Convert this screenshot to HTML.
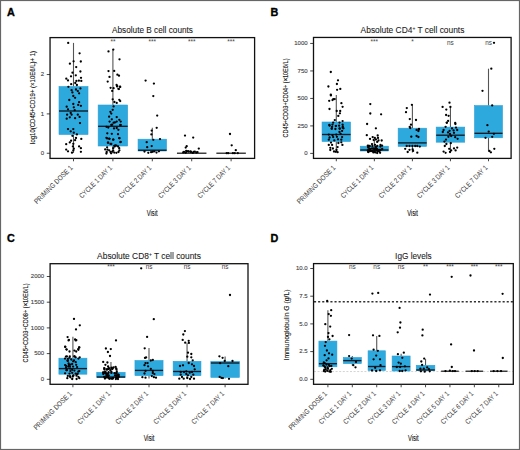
<!DOCTYPE html>
<html><head><meta charset="utf-8"><style>
html,body{margin:0;padding:0;background:#fff;}
svg{display:block;}
text{font-family:"Liberation Sans", sans-serif;}
</style></head><body>
<svg width="520" height="450" viewBox="0 0 520 450">
<rect x="0" y="0" width="520" height="450" fill="#fff"/>
<text x="7.0" y="16.0" font-size="10.8" font-weight="bold" fill="#000" stroke="#000" stroke-width="0.35">A</text>
<text x="0" y="0" font-size="8.9" text-anchor="middle" fill="#1a1a1a" stroke="#1a1a1a" stroke-width="0.08" transform="translate(152.5 32.6) scale(0.925 1)">Absolute B cell counts</text>
<text x="-46.50" y="0" font-size="6.9" textLength="93" lengthAdjust="spacingAndGlyphs" fill="#111" stroke="#111" stroke-width="0.12" transform="translate(35.2 97.4) rotate(-90)">log10(CD45+CD19+ (×10E6/L)+ 1)</text>
<line x1="46.75" y1="153.25" x2="50.05" y2="153.25" stroke="#333" stroke-width="0.9"/>
<text x="44.15" y="155.00" font-size="6" text-anchor="end" fill="#444" stroke="#444" stroke-width="0.12">0</text>
<line x1="46.75" y1="113.90" x2="50.05" y2="113.90" stroke="#333" stroke-width="0.9"/>
<text x="44.15" y="115.65" font-size="6" text-anchor="end" fill="#444" stroke="#444" stroke-width="0.12">1</text>
<line x1="46.75" y1="74.55" x2="50.05" y2="74.55" stroke="#333" stroke-width="0.9"/>
<text x="44.15" y="76.30" font-size="6" text-anchor="end" fill="#444" stroke="#444" stroke-width="0.12">2</text>
<line x1="73.50" y1="42.90" x2="73.50" y2="86.50" stroke="#555" stroke-width="1.1"/>
<line x1="73.50" y1="134.50" x2="73.50" y2="153.00" stroke="#555" stroke-width="1.1"/>
<rect x="59.00" y="86.50" width="29.00" height="48.00" fill="#2ea9de" stroke="#2a9fd6" stroke-width="0.6"/>
<line x1="59.00" y1="111.00" x2="88.00" y2="111.00" stroke="#0e1a24" stroke-width="1.35"/>
<line x1="112.90" y1="49.60" x2="112.90" y2="105.00" stroke="#555" stroke-width="1.1"/>
<line x1="112.90" y1="146.00" x2="112.90" y2="153.20" stroke="#555" stroke-width="1.1"/>
<rect x="98.15" y="105.00" width="29.50" height="41.00" fill="#2ea9de" stroke="#2a9fd6" stroke-width="0.6"/>
<line x1="98.15" y1="126.30" x2="127.65" y2="126.30" stroke="#0e1a24" stroke-width="1.35"/>
<line x1="152.30" y1="127.80" x2="152.30" y2="139.20" stroke="#555" stroke-width="1.1"/>
<line x1="152.30" y1="151.00" x2="152.30" y2="153.00" stroke="#555" stroke-width="1.1"/>
<rect x="138.05" y="139.20" width="28.50" height="11.80" fill="#2ea9de" stroke="#2a9fd6" stroke-width="0.6"/>
<line x1="138.05" y1="150.20" x2="166.55" y2="150.20" stroke="#0e1a24" stroke-width="1.35"/>
<line x1="176.95" y1="153.20" x2="206.45" y2="153.20" stroke="#111" stroke-width="1.2"/>
<line x1="216.35" y1="153.20" x2="245.85" y2="153.20" stroke="#111" stroke-width="1.2"/>
<text x="112.90" y="44.1" font-size="6.4" text-anchor="middle" fill="#444">**</text>
<text x="152.30" y="44.1" font-size="6.4" text-anchor="middle" fill="#444">***</text>
<text x="191.70" y="44.1" font-size="6.4" text-anchor="middle" fill="#444">***</text>
<text x="231.10" y="44.1" font-size="6.4" text-anchor="middle" fill="#444">***</text>
<circle cx="68.2" cy="42.9" r="1.15" fill="#000"/>
<circle cx="79.6" cy="53.3" r="1.15" fill="#000"/>
<circle cx="73.6" cy="61.3" r="1.15" fill="#000"/>
<circle cx="80.8" cy="61.5" r="1.15" fill="#000"/>
<circle cx="69.9" cy="63.7" r="1.15" fill="#000"/>
<circle cx="76.2" cy="67.1" r="1.15" fill="#000"/>
<circle cx="80.4" cy="71.5" r="1.15" fill="#000"/>
<circle cx="72.5" cy="72.7" r="1.15" fill="#000"/>
<circle cx="71" cy="76.3" r="1.15" fill="#000"/>
<circle cx="75.8" cy="75.3" r="1.15" fill="#000"/>
<circle cx="81" cy="77.8" r="1.15" fill="#000"/>
<circle cx="66.3" cy="78.7" r="1.15" fill="#000"/>
<circle cx="68" cy="80.4" r="1.15" fill="#000"/>
<circle cx="76.4" cy="80.9" r="1.15" fill="#000"/>
<circle cx="78.9" cy="80.7" r="1.15" fill="#000"/>
<circle cx="81.3" cy="80.9" r="1.15" fill="#000"/>
<circle cx="71.2" cy="84.2" r="1.15" fill="#000"/>
<circle cx="75.3" cy="83" r="1.15" fill="#000"/>
<circle cx="76.9" cy="85" r="1.15" fill="#000"/>
<circle cx="68.4" cy="86.8" r="1.15" fill="#000"/>
<circle cx="71.6" cy="90.2" r="1.15" fill="#000"/>
<circle cx="76" cy="89.5" r="1.15" fill="#000"/>
<circle cx="77.8" cy="91.1" r="1.15" fill="#000"/>
<circle cx="80.4" cy="88.4" r="1.15" fill="#000"/>
<circle cx="72.4" cy="92.4" r="1.15" fill="#000"/>
<circle cx="79.1" cy="93.3" r="1.15" fill="#000"/>
<circle cx="73.3" cy="96" r="1.15" fill="#000"/>
<circle cx="75.1" cy="97.8" r="1.15" fill="#000"/>
<circle cx="69.3" cy="100" r="1.15" fill="#000"/>
<circle cx="79.1" cy="102.2" r="1.15" fill="#000"/>
<circle cx="73.3" cy="104" r="1.15" fill="#000"/>
<circle cx="78.2" cy="104.9" r="1.15" fill="#000"/>
<circle cx="80.9" cy="105.8" r="1.15" fill="#000"/>
<circle cx="66.7" cy="106.7" r="1.15" fill="#000"/>
<circle cx="73.8" cy="107.3" r="1.15" fill="#000"/>
<circle cx="68" cy="109.3" r="1.15" fill="#000"/>
<circle cx="74.7" cy="110.2" r="1.15" fill="#000"/>
<circle cx="70.7" cy="112.9" r="1.15" fill="#000"/>
<circle cx="67.1" cy="114.7" r="1.15" fill="#000"/>
<circle cx="71.6" cy="114.7" r="1.15" fill="#000"/>
<circle cx="77.8" cy="114.7" r="1.15" fill="#000"/>
<circle cx="69.8" cy="117.3" r="1.15" fill="#000"/>
<circle cx="66.7" cy="118.7" r="1.15" fill="#000"/>
<circle cx="75.1" cy="118.2" r="1.15" fill="#000"/>
<circle cx="79.6" cy="116.9" r="1.15" fill="#000"/>
<circle cx="80" cy="123.1" r="1.15" fill="#000"/>
<circle cx="68" cy="129.1" r="1.15" fill="#000"/>
<circle cx="73.3" cy="129.1" r="1.15" fill="#000"/>
<circle cx="70.7" cy="131.3" r="1.15" fill="#000"/>
<circle cx="73.8" cy="132.7" r="1.15" fill="#000"/>
<circle cx="76.9" cy="134.4" r="1.15" fill="#000"/>
<circle cx="72.4" cy="135.8" r="1.15" fill="#000"/>
<circle cx="76" cy="138" r="1.15" fill="#000"/>
<circle cx="81.3" cy="138.9" r="1.15" fill="#000"/>
<circle cx="71.1" cy="140.7" r="1.15" fill="#000"/>
<circle cx="75.1" cy="140.2" r="1.15" fill="#000"/>
<circle cx="69.8" cy="142.4" r="1.15" fill="#000"/>
<circle cx="66.2" cy="144.2" r="1.15" fill="#000"/>
<circle cx="73.3" cy="143.8" r="1.15" fill="#000"/>
<circle cx="72.9" cy="146.4" r="1.15" fill="#000"/>
<circle cx="79.1" cy="146.4" r="1.15" fill="#000"/>
<circle cx="80.9" cy="148.2" r="1.15" fill="#000"/>
<circle cx="66.2" cy="149.6" r="1.15" fill="#000"/>
<circle cx="73.8" cy="148.7" r="1.15" fill="#000"/>
<circle cx="68" cy="151.3" r="1.15" fill="#000"/>
<circle cx="72" cy="152.7" r="1.15" fill="#000"/>
<circle cx="80.9" cy="151.8" r="1.15" fill="#000"/>
<circle cx="73.3" cy="150.4" r="1.15" fill="#000"/>
<circle cx="113.3" cy="49.6" r="1.15" fill="#000"/>
<circle cx="108.5" cy="51.4" r="1.15" fill="#000"/>
<circle cx="119.5" cy="59.3" r="1.15" fill="#000"/>
<circle cx="108.5" cy="71.1" r="1.15" fill="#000"/>
<circle cx="114.2" cy="70.9" r="1.15" fill="#000"/>
<circle cx="117.4" cy="74.7" r="1.15" fill="#000"/>
<circle cx="119" cy="75.7" r="1.15" fill="#000"/>
<circle cx="109.5" cy="76.9" r="1.15" fill="#000"/>
<circle cx="107.7" cy="81.6" r="1.15" fill="#000"/>
<circle cx="116.6" cy="84.9" r="1.15" fill="#000"/>
<circle cx="117.2" cy="86.1" r="1.15" fill="#000"/>
<circle cx="120" cy="86.7" r="1.15" fill="#000"/>
<circle cx="110.6" cy="87.8" r="1.15" fill="#000"/>
<circle cx="113.6" cy="88.2" r="1.15" fill="#000"/>
<circle cx="118.4" cy="88.8" r="1.15" fill="#000"/>
<circle cx="117.1" cy="86.4" r="1.15" fill="#000"/>
<circle cx="118.9" cy="89.1" r="1.15" fill="#000"/>
<circle cx="120.2" cy="86.9" r="1.15" fill="#000"/>
<circle cx="112.2" cy="90.9" r="1.15" fill="#000"/>
<circle cx="112.7" cy="99.3" r="1.15" fill="#000"/>
<circle cx="114.4" cy="102" r="1.15" fill="#000"/>
<circle cx="116.7" cy="102.9" r="1.15" fill="#000"/>
<circle cx="119.3" cy="99.8" r="1.15" fill="#000"/>
<circle cx="120.2" cy="101.1" r="1.15" fill="#000"/>
<circle cx="113.6" cy="106.4" r="1.15" fill="#000"/>
<circle cx="112.7" cy="109.8" r="1.15" fill="#000"/>
<circle cx="110.4" cy="111.8" r="1.15" fill="#000"/>
<circle cx="111.3" cy="113.6" r="1.15" fill="#000"/>
<circle cx="109.1" cy="116.7" r="1.15" fill="#000"/>
<circle cx="116.7" cy="117.1" r="1.15" fill="#000"/>
<circle cx="111.8" cy="119.3" r="1.15" fill="#000"/>
<circle cx="119.3" cy="119.8" r="1.15" fill="#000"/>
<circle cx="109.6" cy="121.6" r="1.15" fill="#000"/>
<circle cx="114.9" cy="122.4" r="1.15" fill="#000"/>
<circle cx="116.7" cy="121.6" r="1.15" fill="#000"/>
<circle cx="120.7" cy="121.6" r="1.15" fill="#000"/>
<circle cx="112.2" cy="124.7" r="1.15" fill="#000"/>
<circle cx="120.2" cy="125.1" r="1.15" fill="#000"/>
<circle cx="113.6" cy="122.7" r="1.15" fill="#000"/>
<circle cx="111.3" cy="124.9" r="1.15" fill="#000"/>
<circle cx="120.7" cy="124.9" r="1.15" fill="#000"/>
<circle cx="114" cy="128.4" r="1.15" fill="#000"/>
<circle cx="118.4" cy="129.8" r="1.15" fill="#000"/>
<circle cx="116.7" cy="128" r="1.15" fill="#000"/>
<circle cx="107.3" cy="133.3" r="1.15" fill="#000"/>
<circle cx="111.8" cy="133.8" r="1.15" fill="#000"/>
<circle cx="118" cy="134.2" r="1.15" fill="#000"/>
<circle cx="106.4" cy="137.8" r="1.15" fill="#000"/>
<circle cx="109.1" cy="138.7" r="1.15" fill="#000"/>
<circle cx="113.1" cy="139.6" r="1.15" fill="#000"/>
<circle cx="119.3" cy="138.2" r="1.15" fill="#000"/>
<circle cx="108.2" cy="142.7" r="1.15" fill="#000"/>
<circle cx="111.3" cy="144" r="1.15" fill="#000"/>
<circle cx="120.7" cy="141.8" r="1.15" fill="#000"/>
<circle cx="115.3" cy="145.3" r="1.15" fill="#000"/>
<circle cx="108.3" cy="127.5" r="1.15" fill="#000"/>
<circle cx="106.5" cy="126.8" r="1.15" fill="#000"/>
<circle cx="114.3" cy="145.8" r="1.15" fill="#000"/>
<circle cx="116.4" cy="145.6" r="1.15" fill="#000"/>
<circle cx="118.1" cy="146.5" r="1.15" fill="#000"/>
<circle cx="119.2" cy="148.2" r="1.15" fill="#000"/>
<circle cx="119.4" cy="150.3" r="1.15" fill="#000"/>
<circle cx="118.5" cy="152" r="1.15" fill="#000"/>
<circle cx="116.4" cy="152.8" r="1.15" fill="#000"/>
<circle cx="114.3" cy="152.6" r="1.15" fill="#000"/>
<circle cx="113.2" cy="150.7" r="1.15" fill="#000"/>
<circle cx="113.2" cy="148.2" r="1.15" fill="#000"/>
<circle cx="114.7" cy="146.5" r="1.15" fill="#000"/>
<circle cx="107.1" cy="147.3" r="1.15" fill="#000"/>
<circle cx="105.2" cy="149.4" r="1.15" fill="#000"/>
<circle cx="107.5" cy="149.7" r="1.15" fill="#000"/>
<circle cx="109.2" cy="150.3" r="1.15" fill="#000"/>
<circle cx="106.7" cy="152" r="1.15" fill="#000"/>
<circle cx="106.4" cy="153.5" r="1.15" fill="#000"/>
<circle cx="110.5" cy="152" r="1.15" fill="#000"/>
<circle cx="111.1" cy="153.3" r="1.15" fill="#000"/>
<circle cx="112.2" cy="151.6" r="1.15" fill="#000"/>
<circle cx="107.9" cy="142.7" r="1.15" fill="#000"/>
<circle cx="110.5" cy="143.9" r="1.15" fill="#000"/>
<circle cx="113.4" cy="139.7" r="1.15" fill="#000"/>
<circle cx="120.4" cy="142.2" r="1.15" fill="#000"/>
<circle cx="109.6" cy="138.8" r="1.15" fill="#000"/>
<circle cx="107.1" cy="138.4" r="1.15" fill="#000"/>
<circle cx="119.4" cy="138.2" r="1.15" fill="#000"/>
<circle cx="145.6" cy="80.6" r="1.15" fill="#000"/>
<circle cx="153.9" cy="83.6" r="1.15" fill="#000"/>
<circle cx="153.3" cy="96.1" r="1.15" fill="#000"/>
<circle cx="157.2" cy="115.6" r="1.15" fill="#000"/>
<circle cx="156.7" cy="127.8" r="1.15" fill="#000"/>
<circle cx="151.7" cy="130.6" r="1.15" fill="#000"/>
<circle cx="151.4" cy="134.4" r="1.15" fill="#000"/>
<circle cx="153.3" cy="139.8" r="1.15" fill="#000"/>
<circle cx="160" cy="139.1" r="1.15" fill="#000"/>
<circle cx="146.7" cy="142.2" r="1.15" fill="#000"/>
<circle cx="147.2" cy="147.2" r="1.15" fill="#000"/>
<circle cx="151.7" cy="146.1" r="1.15" fill="#000"/>
<circle cx="148.3" cy="152.8" r="1.15" fill="#000"/>
<circle cx="151.1" cy="152.2" r="1.15" fill="#000"/>
<circle cx="152.8" cy="151.7" r="1.15" fill="#000"/>
<circle cx="154.4" cy="151.3" r="1.15" fill="#000"/>
<circle cx="158.9" cy="151.3" r="1.15" fill="#000"/>
<circle cx="156.5" cy="152.6" r="1.15" fill="#000"/>
<circle cx="144.5" cy="151.5" r="1.15" fill="#000"/>
<circle cx="185" cy="135.6" r="1.15" fill="#000"/>
<circle cx="193.2" cy="137.6" r="1.15" fill="#000"/>
<circle cx="185.7" cy="147.6" r="1.15" fill="#000"/>
<circle cx="186.7" cy="146.2" r="1.15" fill="#000"/>
<circle cx="198.8" cy="148.6" r="1.15" fill="#000"/>
<circle cx="184" cy="152" r="1.15" fill="#000"/>
<circle cx="186.5" cy="151.8" r="1.15" fill="#000"/>
<circle cx="188.8" cy="151.7" r="1.15" fill="#000"/>
<circle cx="191" cy="152" r="1.15" fill="#000"/>
<circle cx="193.6" cy="152" r="1.15" fill="#000"/>
<circle cx="196.3" cy="152.5" r="1.15" fill="#000"/>
<circle cx="185.7" cy="152.8" r="1.15" fill="#000"/>
<circle cx="192.8" cy="152.9" r="1.15" fill="#000"/>
<circle cx="188" cy="151.2" r="1.15" fill="#000"/>
<circle cx="190.5" cy="151.5" r="1.15" fill="#000"/>
<circle cx="194.8" cy="151.6" r="1.15" fill="#000"/>
<circle cx="183.2" cy="152.4" r="1.15" fill="#000"/>
<circle cx="197.5" cy="152.2" r="1.15" fill="#000"/>
<circle cx="186.2" cy="150.8" r="1.15" fill="#000"/>
<circle cx="230" cy="134" r="1.15" fill="#000"/>
<circle cx="231.7" cy="145.3" r="1.15" fill="#000"/>
<circle cx="235.8" cy="150.2" r="1.15" fill="#000"/>
<circle cx="226.7" cy="153.2" r="1.15" fill="#000"/>
<circle cx="228.2" cy="153.2" r="1.15" fill="#000"/>
<circle cx="232.9" cy="153.2" r="1.15" fill="#000"/>
<circle cx="234.7" cy="153.2" r="1.15" fill="#000"/>
<circle cx="237.8" cy="153.2" r="1.15" fill="#000"/>
<rect x="50.05" y="37.6" width="204.55" height="120.80000000000001" fill="none" stroke="#111" stroke-width="1.3"/>
<line x1="73.50" y1="158.3" x2="73.50" y2="161.3" stroke="#333" stroke-width="0.9"/>
<text x="-51.00" y="0" font-size="7.2" textLength="51" lengthAdjust="spacingAndGlyphs" fill="#4a4a4a" stroke="#4a4a4a" stroke-width="0.05" transform="translate(73.10 168.30) rotate(-45)">PRIMING DOSE 1</text>
<line x1="112.90" y1="158.3" x2="112.90" y2="161.3" stroke="#333" stroke-width="0.9"/>
<text x="-43.00" y="0" font-size="7.2" textLength="43" lengthAdjust="spacingAndGlyphs" fill="#4a4a4a" stroke="#4a4a4a" stroke-width="0.05" transform="translate(112.50 168.30) rotate(-45)">CYCLE 1 DAY 1</text>
<line x1="152.30" y1="158.3" x2="152.30" y2="161.3" stroke="#333" stroke-width="0.9"/>
<text x="-43.00" y="0" font-size="7.2" textLength="43" lengthAdjust="spacingAndGlyphs" fill="#4a4a4a" stroke="#4a4a4a" stroke-width="0.05" transform="translate(151.90 168.30) rotate(-45)">CYCLE 2 DAY 1</text>
<line x1="191.70" y1="158.3" x2="191.70" y2="161.3" stroke="#333" stroke-width="0.9"/>
<text x="-43.00" y="0" font-size="7.2" textLength="43" lengthAdjust="spacingAndGlyphs" fill="#4a4a4a" stroke="#4a4a4a" stroke-width="0.05" transform="translate(191.30 168.30) rotate(-45)">CYCLE 3 DAY 1</text>
<line x1="231.10" y1="158.3" x2="231.10" y2="161.3" stroke="#333" stroke-width="0.9"/>
<text x="-43.00" y="0" font-size="7.2" textLength="43" lengthAdjust="spacingAndGlyphs" fill="#4a4a4a" stroke="#4a4a4a" stroke-width="0.05" transform="translate(230.70 168.30) rotate(-45)">CYCLE 7 DAY 1</text>
<text x="0" y="0" font-size="8.4" textLength="10.7" lengthAdjust="spacingAndGlyphs" text-anchor="middle" fill="#111" stroke="#111" stroke-width="0.12" transform="translate(152.2 215.9)">Visit</text>
<text x="270.4" y="16.0" font-size="10.8" font-weight="bold" fill="#000" stroke="#000" stroke-width="0.35">B</text>
<text x="0" y="0" font-size="8.9" text-anchor="middle" fill="#1a1a1a" stroke="#1a1a1a" stroke-width="0.08" transform="translate(412.5 32.6) scale(0.945 1)">Absolute CD4<tspan font-size="5.2" dy="-3">+</tspan><tspan dy="3"> T cell counts</tspan></text>
<text x="-39.50" y="0" font-size="6.9" textLength="79" lengthAdjust="spacingAndGlyphs" fill="#111" stroke="#111" stroke-width="0.12" transform="translate(288.4 98) rotate(-90)">CD45+CD03+CD04+ (×10E6/L)</text>
<line x1="310.2" y1="153.40" x2="313.5" y2="153.40" stroke="#333" stroke-width="0.9"/>
<text x="307.6" y="155.15" font-size="6" text-anchor="end" fill="#444" stroke="#444" stroke-width="0.12">0</text>
<line x1="310.2" y1="125.91" x2="313.5" y2="125.91" stroke="#333" stroke-width="0.9"/>
<text x="307.6" y="127.66" font-size="6" text-anchor="end" fill="#444" stroke="#444" stroke-width="0.12">250</text>
<line x1="310.2" y1="98.43" x2="313.5" y2="98.43" stroke="#333" stroke-width="0.9"/>
<text x="307.6" y="100.18" font-size="6" text-anchor="end" fill="#444" stroke="#444" stroke-width="0.12">500</text>
<line x1="310.2" y1="70.94" x2="313.5" y2="70.94" stroke="#333" stroke-width="0.9"/>
<text x="307.6" y="72.69" font-size="6" text-anchor="end" fill="#444" stroke="#444" stroke-width="0.12">750</text>
<line x1="310.2" y1="43.45" x2="313.5" y2="43.45" stroke="#333" stroke-width="0.9"/>
<text x="307.6" y="45.20" font-size="6" text-anchor="end" fill="#444" stroke="#444" stroke-width="0.12">1000</text>
<line x1="336.30" y1="95.00" x2="336.30" y2="122.00" stroke="#555" stroke-width="1.1"/>
<line x1="336.30" y1="141.50" x2="336.30" y2="152.00" stroke="#555" stroke-width="1.1"/>
<rect x="322.05" y="122.00" width="28.50" height="19.50" fill="#2ea9de" stroke="#2a9fd6" stroke-width="0.6"/>
<line x1="322.05" y1="134.50" x2="350.55" y2="134.50" stroke="#0e1a24" stroke-width="1.35"/>
<line x1="374.35" y1="140.00" x2="374.35" y2="146.20" stroke="#555" stroke-width="1.1"/>
<line x1="374.35" y1="151.00" x2="374.35" y2="152.50" stroke="#555" stroke-width="1.1"/>
<rect x="360.25" y="146.20" width="28.20" height="4.80" fill="#2ea9de" stroke="#2a9fd6" stroke-width="0.6"/>
<line x1="360.25" y1="150.00" x2="388.45" y2="150.00" stroke="#0e1a24" stroke-width="1.35"/>
<line x1="412.40" y1="104.80" x2="412.40" y2="128.20" stroke="#555" stroke-width="1.1"/>
<line x1="412.40" y1="146.40" x2="412.40" y2="152.50" stroke="#555" stroke-width="1.1"/>
<rect x="398.15" y="128.20" width="28.50" height="18.20" fill="#2ea9de" stroke="#2a9fd6" stroke-width="0.6"/>
<line x1="398.15" y1="142.90" x2="426.65" y2="142.90" stroke="#0e1a24" stroke-width="1.35"/>
<line x1="450.45" y1="106.80" x2="450.45" y2="127.10" stroke="#555" stroke-width="1.1"/>
<line x1="450.45" y1="142.20" x2="450.45" y2="152.50" stroke="#555" stroke-width="1.1"/>
<rect x="436.20" y="127.10" width="28.50" height="15.10" fill="#2ea9de" stroke="#2a9fd6" stroke-width="0.6"/>
<line x1="436.20" y1="135.20" x2="464.70" y2="135.20" stroke="#0e1a24" stroke-width="1.35"/>
<line x1="488.50" y1="68.70" x2="488.50" y2="105.60" stroke="#555" stroke-width="1.1"/>
<line x1="488.50" y1="137.80" x2="488.50" y2="151.60" stroke="#555" stroke-width="1.1"/>
<rect x="474.50" y="105.60" width="28.00" height="32.20" fill="#2ea9de" stroke="#2a9fd6" stroke-width="0.6"/>
<line x1="474.50" y1="133.30" x2="502.50" y2="133.30" stroke="#0e1a24" stroke-width="1.35"/>
<text x="374.35" y="44.1" font-size="6.4" text-anchor="middle" fill="#444">***</text>
<text x="412.40" y="44.1" font-size="6.4" text-anchor="middle" fill="#444">*</text>
<text x="450.45" y="44.6" font-size="6.4" text-anchor="middle" fill="#444">ns</text>
<text x="488.50" y="44.6" font-size="6.4" text-anchor="middle" fill="#444">ns</text>
<circle cx="330.8" cy="72" r="1.15" fill="#000"/>
<circle cx="338" cy="80.3" r="1.15" fill="#000"/>
<circle cx="336.9" cy="84" r="1.15" fill="#000"/>
<circle cx="328.4" cy="86.5" r="1.15" fill="#000"/>
<circle cx="337.1" cy="89.8" r="1.15" fill="#000"/>
<circle cx="340.3" cy="88.9" r="1.15" fill="#000"/>
<circle cx="330.8" cy="94.7" r="1.15" fill="#000"/>
<circle cx="333.3" cy="99.1" r="1.15" fill="#000"/>
<circle cx="334.7" cy="99.1" r="1.15" fill="#000"/>
<circle cx="330.9" cy="95.4" r="1.15" fill="#000"/>
<circle cx="329.2" cy="100.8" r="1.15" fill="#000"/>
<circle cx="332.5" cy="100.1" r="1.15" fill="#000"/>
<circle cx="341.4" cy="103.2" r="1.15" fill="#000"/>
<circle cx="342.6" cy="106.8" r="1.15" fill="#000"/>
<circle cx="329.5" cy="109" r="1.15" fill="#000"/>
<circle cx="336.7" cy="111" r="1.15" fill="#000"/>
<circle cx="340.2" cy="111" r="1.15" fill="#000"/>
<circle cx="339.9" cy="113.3" r="1.15" fill="#000"/>
<circle cx="338.3" cy="115.9" r="1.15" fill="#000"/>
<circle cx="334.8" cy="120.1" r="1.15" fill="#000"/>
<circle cx="342.6" cy="121.1" r="1.15" fill="#000"/>
<circle cx="333.2" cy="122.6" r="1.15" fill="#000"/>
<circle cx="339.5" cy="122.6" r="1.15" fill="#000"/>
<circle cx="329.3" cy="125" r="1.15" fill="#000"/>
<circle cx="332.5" cy="124.6" r="1.15" fill="#000"/>
<circle cx="336" cy="125.8" r="1.15" fill="#000"/>
<circle cx="342.6" cy="124.6" r="1.15" fill="#000"/>
<circle cx="331.7" cy="128.5" r="1.15" fill="#000"/>
<circle cx="339.5" cy="128.5" r="1.15" fill="#000"/>
<circle cx="342.6" cy="127.7" r="1.15" fill="#000"/>
<circle cx="329.6" cy="125.7" r="1.15" fill="#000"/>
<circle cx="332.1" cy="126.8" r="1.15" fill="#000"/>
<circle cx="335.8" cy="126.1" r="1.15" fill="#000"/>
<circle cx="339.1" cy="125.7" r="1.15" fill="#000"/>
<circle cx="342.8" cy="126.5" r="1.15" fill="#000"/>
<circle cx="331.8" cy="128.7" r="1.15" fill="#000"/>
<circle cx="335.4" cy="129" r="1.15" fill="#000"/>
<circle cx="339.9" cy="128.7" r="1.15" fill="#000"/>
<circle cx="343.5" cy="128.3" r="1.15" fill="#000"/>
<circle cx="339.5" cy="132" r="1.15" fill="#000"/>
<circle cx="342.1" cy="130.9" r="1.15" fill="#000"/>
<circle cx="328.8" cy="134.6" r="1.15" fill="#000"/>
<circle cx="332.5" cy="135.3" r="1.15" fill="#000"/>
<circle cx="336.2" cy="134.6" r="1.15" fill="#000"/>
<circle cx="340.6" cy="133.8" r="1.15" fill="#000"/>
<circle cx="329.6" cy="137.5" r="1.15" fill="#000"/>
<circle cx="333.2" cy="137.1" r="1.15" fill="#000"/>
<circle cx="336.9" cy="136.8" r="1.15" fill="#000"/>
<circle cx="342.1" cy="137.1" r="1.15" fill="#000"/>
<circle cx="328.8" cy="139.7" r="1.15" fill="#000"/>
<circle cx="334.3" cy="140.4" r="1.15" fill="#000"/>
<circle cx="338" cy="139.3" r="1.15" fill="#000"/>
<circle cx="341.3" cy="139.7" r="1.15" fill="#000"/>
<circle cx="331" cy="142.6" r="1.15" fill="#000"/>
<circle cx="338.4" cy="143" r="1.15" fill="#000"/>
<circle cx="341.3" cy="142.3" r="1.15" fill="#000"/>
<circle cx="328.8" cy="144.9" r="1.15" fill="#000"/>
<circle cx="332.1" cy="144.9" r="1.15" fill="#000"/>
<circle cx="342.4" cy="144.9" r="1.15" fill="#000"/>
<circle cx="330.3" cy="147.8" r="1.15" fill="#000"/>
<circle cx="332.9" cy="148.5" r="1.15" fill="#000"/>
<circle cx="337.6" cy="147.1" r="1.15" fill="#000"/>
<circle cx="330.3" cy="150" r="1.15" fill="#000"/>
<circle cx="336.5" cy="150" r="1.15" fill="#000"/>
<circle cx="334" cy="151.5" r="1.15" fill="#000"/>
<circle cx="337.6" cy="152.2" r="1.15" fill="#000"/>
<circle cx="335.8" cy="151.8" r="1.15" fill="#000"/>
<circle cx="370.3" cy="104.1" r="1.15" fill="#000"/>
<circle cx="370.3" cy="113.5" r="1.15" fill="#000"/>
<circle cx="381.1" cy="114.3" r="1.15" fill="#000"/>
<circle cx="367.1" cy="124" r="1.15" fill="#000"/>
<circle cx="375.9" cy="128.3" r="1.15" fill="#000"/>
<circle cx="366.8" cy="135.2" r="1.15" fill="#000"/>
<circle cx="370" cy="138.9" r="1.15" fill="#000"/>
<circle cx="372.7" cy="137.1" r="1.15" fill="#000"/>
<circle cx="374.8" cy="137.9" r="1.15" fill="#000"/>
<circle cx="373.7" cy="140" r="1.15" fill="#000"/>
<circle cx="375.9" cy="139.5" r="1.15" fill="#000"/>
<circle cx="377.7" cy="135.5" r="1.15" fill="#000"/>
<circle cx="378" cy="137.9" r="1.15" fill="#000"/>
<circle cx="378.5" cy="140.5" r="1.15" fill="#000"/>
<circle cx="377.2" cy="141.9" r="1.15" fill="#000"/>
<circle cx="381.7" cy="140.5" r="1.15" fill="#000"/>
<circle cx="372" cy="144.1" r="1.15" fill="#000"/>
<circle cx="367.8" cy="145.7" r="1.15" fill="#000"/>
<circle cx="380.5" cy="145" r="1.15" fill="#000"/>
<circle cx="375" cy="144.8" r="1.15" fill="#000"/>
<circle cx="372.4" cy="146.0" r="1.15" fill="#000"/>
<circle cx="377.3" cy="145.8" r="1.15" fill="#000"/>
<circle cx="375.5" cy="146.8" r="1.15" fill="#000"/>
<circle cx="368.4" cy="147.3" r="1.15" fill="#000"/>
<circle cx="368.1" cy="147.0" r="1.15" fill="#000"/>
<circle cx="368.5" cy="145.8" r="1.15" fill="#000"/>
<circle cx="373.9" cy="148.4" r="1.15" fill="#000"/>
<circle cx="369.4" cy="146.3" r="1.15" fill="#000"/>
<circle cx="376.9" cy="148.8" r="1.15" fill="#000"/>
<circle cx="376.2" cy="146.9" r="1.15" fill="#000"/>
<circle cx="382.1" cy="145.7" r="1.15" fill="#000"/>
<circle cx="380.4" cy="146.5" r="1.15" fill="#000"/>
<circle cx="369.7" cy="145.9" r="1.15" fill="#000"/>
<circle cx="372.1" cy="148.4" r="1.15" fill="#000"/>
<circle cx="370.2" cy="151.1" r="1.15" fill="#000"/>
<circle cx="377.1" cy="150.2" r="1.15" fill="#000"/>
<circle cx="375.7" cy="148.8" r="1.15" fill="#000"/>
<circle cx="368.4" cy="149.4" r="1.15" fill="#000"/>
<circle cx="377.7" cy="150.4" r="1.15" fill="#000"/>
<circle cx="372.2" cy="151.1" r="1.15" fill="#000"/>
<circle cx="374.3" cy="149.8" r="1.15" fill="#000"/>
<circle cx="379.4" cy="151.6" r="1.15" fill="#000"/>
<circle cx="371.2" cy="151.1" r="1.15" fill="#000"/>
<circle cx="375.4" cy="152.4" r="1.15" fill="#000"/>
<circle cx="378.4" cy="149.8" r="1.15" fill="#000"/>
<circle cx="382.2" cy="149.0" r="1.15" fill="#000"/>
<circle cx="373.8" cy="151.9" r="1.15" fill="#000"/>
<circle cx="369.8" cy="150.7" r="1.15" fill="#000"/>
<circle cx="368.1" cy="151.5" r="1.15" fill="#000"/>
<circle cx="379.0" cy="151.1" r="1.15" fill="#000"/>
<circle cx="380.6" cy="149.9" r="1.15" fill="#000"/>
<circle cx="377.9" cy="151.2" r="1.15" fill="#000"/>
<circle cx="376.2" cy="150.6" r="1.15" fill="#000"/>
<circle cx="380.1" cy="152.8" r="1.15" fill="#000"/>
<circle cx="374.6" cy="151.5" r="1.15" fill="#000"/>
<circle cx="368.4" cy="151.7" r="1.15" fill="#000"/>
<circle cx="377.2" cy="153.0" r="1.15" fill="#000"/>
<circle cx="379.8" cy="149.8" r="1.15" fill="#000"/>
<circle cx="373.3" cy="151.5" r="1.15" fill="#000"/>
<circle cx="367.8" cy="150.6" r="1.15" fill="#000"/>
<circle cx="370.0" cy="149.0" r="1.15" fill="#000"/>
<circle cx="368.4" cy="152.0" r="1.15" fill="#000"/>
<circle cx="369.4" cy="149.6" r="1.15" fill="#000"/>
<circle cx="373.4" cy="152.4" r="1.15" fill="#000"/>
<circle cx="411.9" cy="104.8" r="1.15" fill="#000"/>
<circle cx="406.8" cy="108.1" r="1.15" fill="#000"/>
<circle cx="406" cy="112.2" r="1.15" fill="#000"/>
<circle cx="409.8" cy="119.1" r="1.15" fill="#000"/>
<circle cx="416" cy="120" r="1.15" fill="#000"/>
<circle cx="411" cy="124.7" r="1.15" fill="#000"/>
<circle cx="409.7" cy="127" r="1.15" fill="#000"/>
<circle cx="410.3" cy="128" r="1.15" fill="#000"/>
<circle cx="419" cy="129" r="1.15" fill="#000"/>
<circle cx="416.6" cy="129.9" r="1.15" fill="#000"/>
<circle cx="418.8" cy="129.2" r="1.15" fill="#000"/>
<circle cx="418.4" cy="131" r="1.15" fill="#000"/>
<circle cx="411.3" cy="136.7" r="1.15" fill="#000"/>
<circle cx="416.6" cy="136" r="1.15" fill="#000"/>
<circle cx="418.4" cy="137" r="1.15" fill="#000"/>
<circle cx="406.7" cy="146" r="1.15" fill="#000"/>
<circle cx="409.5" cy="146" r="1.15" fill="#000"/>
<circle cx="412.4" cy="146" r="1.15" fill="#000"/>
<circle cx="415.2" cy="146" r="1.15" fill="#000"/>
<circle cx="417.3" cy="146" r="1.15" fill="#000"/>
<circle cx="419.8" cy="146.6" r="1.15" fill="#000"/>
<circle cx="405.2" cy="148.8" r="1.15" fill="#000"/>
<circle cx="409.5" cy="149.8" r="1.15" fill="#000"/>
<circle cx="413.1" cy="150.9" r="1.15" fill="#000"/>
<circle cx="407.7" cy="152" r="1.15" fill="#000"/>
<circle cx="417.3" cy="152.7" r="1.15" fill="#000"/>
<circle cx="412.7" cy="149.5" r="1.15" fill="#000"/>
<circle cx="449.5" cy="102.7" r="1.15" fill="#000"/>
<circle cx="442.6" cy="106.9" r="1.15" fill="#000"/>
<circle cx="450.4" cy="106.9" r="1.15" fill="#000"/>
<circle cx="446.3" cy="109.6" r="1.15" fill="#000"/>
<circle cx="446.1" cy="115" r="1.15" fill="#000"/>
<circle cx="448.6" cy="115.8" r="1.15" fill="#000"/>
<circle cx="448.1" cy="120.9" r="1.15" fill="#000"/>
<circle cx="446.8" cy="122.6" r="1.15" fill="#000"/>
<circle cx="455.2" cy="122.9" r="1.15" fill="#000"/>
<circle cx="455.4" cy="124" r="1.15" fill="#000"/>
<circle cx="446.8" cy="122.8" r="1.15" fill="#000"/>
<circle cx="445.6" cy="126.8" r="1.15" fill="#000"/>
<circle cx="443.6" cy="130" r="1.15" fill="#000"/>
<circle cx="442.8" cy="132" r="1.15" fill="#000"/>
<circle cx="452" cy="128.4" r="1.15" fill="#000"/>
<circle cx="456" cy="127.6" r="1.15" fill="#000"/>
<circle cx="457.2" cy="130" r="1.15" fill="#000"/>
<circle cx="449.6" cy="130.8" r="1.15" fill="#000"/>
<circle cx="453.6" cy="130.4" r="1.15" fill="#000"/>
<circle cx="448" cy="132.4" r="1.15" fill="#000"/>
<circle cx="450" cy="134" r="1.15" fill="#000"/>
<circle cx="454" cy="132.8" r="1.15" fill="#000"/>
<circle cx="448.4" cy="136.8" r="1.15" fill="#000"/>
<circle cx="451.2" cy="136" r="1.15" fill="#000"/>
<circle cx="455.2" cy="137.2" r="1.15" fill="#000"/>
<circle cx="457.6" cy="138.8" r="1.15" fill="#000"/>
<circle cx="446" cy="139.6" r="1.15" fill="#000"/>
<circle cx="444.4" cy="141.6" r="1.15" fill="#000"/>
<circle cx="450.8" cy="143.2" r="1.15" fill="#000"/>
<circle cx="446.4" cy="144" r="1.15" fill="#000"/>
<circle cx="444.8" cy="146" r="1.15" fill="#000"/>
<circle cx="457.2" cy="147.6" r="1.15" fill="#000"/>
<circle cx="454" cy="148.4" r="1.15" fill="#000"/>
<circle cx="449.2" cy="148.8" r="1.15" fill="#000"/>
<circle cx="455.6" cy="150.4" r="1.15" fill="#000"/>
<circle cx="451.2" cy="150.4" r="1.15" fill="#000"/>
<circle cx="443.6" cy="151.6" r="1.15" fill="#000"/>
<circle cx="445.6" cy="152.8" r="1.15" fill="#000"/>
<circle cx="450" cy="152" r="1.15" fill="#000"/>
<circle cx="494" cy="42.8" r="1.15" fill="#000"/>
<circle cx="491.3" cy="68.7" r="1.15" fill="#000"/>
<circle cx="482.5" cy="90.8" r="1.15" fill="#000"/>
<circle cx="492.2" cy="105.4" r="1.15" fill="#000"/>
<circle cx="487.4" cy="125.2" r="1.15" fill="#000"/>
<circle cx="488.7" cy="131.6" r="1.15" fill="#000"/>
<circle cx="493.9" cy="133.8" r="1.15" fill="#000"/>
<circle cx="492.2" cy="136.8" r="1.15" fill="#000"/>
<circle cx="485.5" cy="137.8" r="1.15" fill="#000"/>
<circle cx="494.3" cy="148.8" r="1.15" fill="#000"/>
<circle cx="489.4" cy="151" r="1.15" fill="#000"/>
<circle cx="490.9" cy="152.3" r="1.15" fill="#000"/>
<rect x="313.5" y="37.45" width="197.60000000000002" height="120.95" fill="none" stroke="#111" stroke-width="1.3"/>
<line x1="336.30" y1="158.25" x2="336.30" y2="161.25" stroke="#333" stroke-width="0.9"/>
<text x="-51.00" y="0" font-size="7.2" textLength="51" lengthAdjust="spacingAndGlyphs" fill="#4a4a4a" stroke="#4a4a4a" stroke-width="0.05" transform="translate(335.90 168.25) rotate(-45)">PRIMING DOSE 1</text>
<line x1="374.35" y1="158.25" x2="374.35" y2="161.25" stroke="#333" stroke-width="0.9"/>
<text x="-43.00" y="0" font-size="7.2" textLength="43" lengthAdjust="spacingAndGlyphs" fill="#4a4a4a" stroke="#4a4a4a" stroke-width="0.05" transform="translate(373.95 168.25) rotate(-45)">CYCLE 1 DAY 1</text>
<line x1="412.40" y1="158.25" x2="412.40" y2="161.25" stroke="#333" stroke-width="0.9"/>
<text x="-43.00" y="0" font-size="7.2" textLength="43" lengthAdjust="spacingAndGlyphs" fill="#4a4a4a" stroke="#4a4a4a" stroke-width="0.05" transform="translate(412.00 168.25) rotate(-45)">CYCLE 2 DAY 1</text>
<line x1="450.45" y1="158.25" x2="450.45" y2="161.25" stroke="#333" stroke-width="0.9"/>
<text x="-43.00" y="0" font-size="7.2" textLength="43" lengthAdjust="spacingAndGlyphs" fill="#4a4a4a" stroke="#4a4a4a" stroke-width="0.05" transform="translate(450.05 168.25) rotate(-45)">CYCLE 3 DAY 1</text>
<line x1="488.50" y1="158.25" x2="488.50" y2="161.25" stroke="#333" stroke-width="0.9"/>
<text x="-43.00" y="0" font-size="7.2" textLength="43" lengthAdjust="spacingAndGlyphs" fill="#4a4a4a" stroke="#4a4a4a" stroke-width="0.05" transform="translate(488.10 168.25) rotate(-45)">CYCLE 7 DAY 1</text>
<text x="0" y="0" font-size="8.4" textLength="10.7" lengthAdjust="spacingAndGlyphs" text-anchor="middle" fill="#111" stroke="#111" stroke-width="0.12" transform="translate(412.5 215.9)">Visit</text>
<text x="6.9" y="241.8" font-size="10.8" font-weight="bold" fill="#000" stroke="#000" stroke-width="0.35">C</text>
<text x="0" y="0" font-size="8.9" text-anchor="middle" fill="#1a1a1a" stroke="#1a1a1a" stroke-width="0.08" transform="translate(149 258.5) scale(0.945 1)">Absolute CD8<tspan font-size="5.2" dy="-3">+</tspan><tspan dy="3"> T cell counts</tspan></text>
<text x="-39.50" y="0" font-size="6.9" textLength="79" lengthAdjust="spacingAndGlyphs" fill="#111" stroke="#111" stroke-width="0.12" transform="translate(28.4 323) rotate(-90)">CD45+CD03+CD08+ (×10E6/L)</text>
<line x1="46.800000000000004" y1="379.30" x2="50.1" y2="379.30" stroke="#333" stroke-width="0.9"/>
<text x="44.2" y="381.05" font-size="6" text-anchor="end" fill="#444" stroke="#444" stroke-width="0.12">0</text>
<line x1="46.800000000000004" y1="353.60" x2="50.1" y2="353.60" stroke="#333" stroke-width="0.9"/>
<text x="44.2" y="355.35" font-size="6" text-anchor="end" fill="#444" stroke="#444" stroke-width="0.12">500</text>
<line x1="46.800000000000004" y1="327.90" x2="50.1" y2="327.90" stroke="#333" stroke-width="0.9"/>
<text x="44.2" y="329.65" font-size="6" text-anchor="end" fill="#444" stroke="#444" stroke-width="0.12">1000</text>
<line x1="46.800000000000004" y1="302.20" x2="50.1" y2="302.20" stroke="#333" stroke-width="0.9"/>
<text x="44.2" y="303.95" font-size="6" text-anchor="end" fill="#444" stroke="#444" stroke-width="0.12">1500</text>
<line x1="46.800000000000004" y1="276.50" x2="50.1" y2="276.50" stroke="#333" stroke-width="0.9"/>
<text x="44.2" y="278.25" font-size="6" text-anchor="end" fill="#444" stroke="#444" stroke-width="0.12">2000</text>
<line x1="72.90" y1="336.70" x2="72.90" y2="358.20" stroke="#555" stroke-width="1.1"/>
<line x1="72.90" y1="374.20" x2="72.90" y2="378.50" stroke="#555" stroke-width="1.1"/>
<rect x="58.90" y="358.20" width="28.00" height="16.00" fill="#2ea9de" stroke="#2a9fd6" stroke-width="0.6"/>
<line x1="58.90" y1="368.60" x2="86.90" y2="368.60" stroke="#0e1a24" stroke-width="1.35"/>
<line x1="110.95" y1="362.00" x2="110.95" y2="372.30" stroke="#555" stroke-width="1.1"/>
<line x1="110.95" y1="377.70" x2="110.95" y2="378.70" stroke="#555" stroke-width="1.1"/>
<rect x="96.75" y="372.30" width="28.40" height="5.40" fill="#2ea9de" stroke="#2a9fd6" stroke-width="0.6"/>
<line x1="96.75" y1="377.00" x2="125.15" y2="377.00" stroke="#0e1a24" stroke-width="1.35"/>
<line x1="149.00" y1="348.00" x2="149.00" y2="360.50" stroke="#555" stroke-width="1.1"/>
<line x1="149.00" y1="375.60" x2="149.00" y2="378.50" stroke="#555" stroke-width="1.1"/>
<rect x="134.95" y="360.50" width="28.10" height="15.10" fill="#2ea9de" stroke="#2a9fd6" stroke-width="0.6"/>
<line x1="134.95" y1="370.40" x2="163.05" y2="370.40" stroke="#0e1a24" stroke-width="1.35"/>
<line x1="187.05" y1="342.70" x2="187.05" y2="361.30" stroke="#555" stroke-width="1.1"/>
<line x1="187.05" y1="375.70" x2="187.05" y2="378.50" stroke="#555" stroke-width="1.1"/>
<rect x="173.15" y="361.30" width="27.80" height="14.40" fill="#2ea9de" stroke="#2a9fd6" stroke-width="0.6"/>
<line x1="173.15" y1="371.50" x2="200.95" y2="371.50" stroke="#0e1a24" stroke-width="1.35"/>
<line x1="225.10" y1="356.40" x2="225.10" y2="361.40" stroke="#555" stroke-width="1.1"/>
<line x1="225.10" y1="377.40" x2="225.10" y2="378.50" stroke="#555" stroke-width="1.1"/>
<rect x="210.85" y="361.40" width="28.50" height="16.00" fill="#2ea9de" stroke="#2a9fd6" stroke-width="0.6"/>
<line x1="210.85" y1="363.00" x2="239.35" y2="363.00" stroke="#0e1a24" stroke-width="1.35"/>
<text x="110.95" y="268.6" font-size="6.4" text-anchor="middle" fill="#444">***</text>
<text x="149.00" y="269.05" font-size="6.4" text-anchor="middle" fill="#444">ns</text>
<text x="187.05" y="269.05" font-size="6.4" text-anchor="middle" fill="#444">ns</text>
<text x="225.10" y="269.05" font-size="6.4" text-anchor="middle" fill="#444">ns</text>
<circle cx="141.2" cy="268.3" r="1.15" fill="#000"/>
<circle cx="74" cy="318.9" r="1.15" fill="#000"/>
<circle cx="79.8" cy="325.3" r="1.15" fill="#000"/>
<circle cx="76" cy="329.4" r="1.15" fill="#000"/>
<circle cx="67.6" cy="337.1" r="1.15" fill="#000"/>
<circle cx="68.9" cy="339.8" r="1.15" fill="#000"/>
<circle cx="75.1" cy="339.4" r="1.15" fill="#000"/>
<circle cx="76.3" cy="340.2" r="1.15" fill="#000"/>
<circle cx="65.3" cy="346.9" r="1.15" fill="#000"/>
<circle cx="79.1" cy="347.4" r="1.15" fill="#000"/>
<circle cx="66.7" cy="349.6" r="1.15" fill="#000"/>
<circle cx="78.2" cy="349.1" r="1.15" fill="#000"/>
<circle cx="68.6" cy="340.4" r="1.15" fill="#000"/>
<circle cx="75.7" cy="340.4" r="1.15" fill="#000"/>
<circle cx="65.1" cy="346.7" r="1.15" fill="#000"/>
<circle cx="66.4" cy="349.3" r="1.15" fill="#000"/>
<circle cx="69.5" cy="351.5" r="1.15" fill="#000"/>
<circle cx="74.4" cy="350.6" r="1.15" fill="#000"/>
<circle cx="76.2" cy="351.5" r="1.15" fill="#000"/>
<circle cx="79.3" cy="347.5" r="1.15" fill="#000"/>
<circle cx="78.4" cy="349.8" r="1.15" fill="#000"/>
<circle cx="66.9" cy="356.4" r="1.15" fill="#000"/>
<circle cx="69.5" cy="357.7" r="1.15" fill="#000"/>
<circle cx="74.4" cy="356.4" r="1.15" fill="#000"/>
<circle cx="75.7" cy="357.3" r="1.15" fill="#000"/>
<circle cx="79.7" cy="357.3" r="1.15" fill="#000"/>
<circle cx="67.8" cy="360.9" r="1.15" fill="#000"/>
<circle cx="71.3" cy="359.5" r="1.15" fill="#000"/>
<circle cx="74" cy="360.4" r="1.15" fill="#000"/>
<circle cx="75.7" cy="362.2" r="1.15" fill="#000"/>
<circle cx="68.6" cy="363.5" r="1.15" fill="#000"/>
<circle cx="72.2" cy="364" r="1.15" fill="#000"/>
<circle cx="76.2" cy="364.8" r="1.15" fill="#000"/>
<circle cx="77.1" cy="367.1" r="1.15" fill="#000"/>
<circle cx="66" cy="367.5" r="1.15" fill="#000"/>
<circle cx="70" cy="366.6" r="1.15" fill="#000"/>
<circle cx="73.1" cy="366.6" r="1.15" fill="#000"/>
<circle cx="66.9" cy="370.2" r="1.15" fill="#000"/>
<circle cx="70.4" cy="371.1" r="1.15" fill="#000"/>
<circle cx="74.4" cy="370.6" r="1.15" fill="#000"/>
<circle cx="79.3" cy="371.1" r="1.15" fill="#000"/>
<circle cx="65.1" cy="373.3" r="1.15" fill="#000"/>
<circle cx="69.5" cy="373.7" r="1.15" fill="#000"/>
<circle cx="72.2" cy="372.8" r="1.15" fill="#000"/>
<circle cx="75.7" cy="373.7" r="1.15" fill="#000"/>
<circle cx="67.8" cy="375.9" r="1.15" fill="#000"/>
<circle cx="70.4" cy="377.3" r="1.15" fill="#000"/>
<circle cx="73.5" cy="375.5" r="1.15" fill="#000"/>
<circle cx="78.4" cy="376.8" r="1.15" fill="#000"/>
<circle cx="67.3" cy="378.2" r="1.15" fill="#000"/>
<circle cx="72.2" cy="379" r="1.15" fill="#000"/>
<circle cx="76.6" cy="379" r="1.15" fill="#000"/>
<circle cx="79.3" cy="378.2" r="1.15" fill="#000"/>
<circle cx="66.1" cy="365.8" r="1.15" fill="#000"/>
<circle cx="72.7" cy="376.2" r="1.15" fill="#000"/>
<circle cx="76.5" cy="375.7" r="1.15" fill="#000"/>
<circle cx="68.9" cy="365.0" r="1.15" fill="#000"/>
<circle cx="70.0" cy="376.2" r="1.15" fill="#000"/>
<circle cx="78.4" cy="358.6" r="1.15" fill="#000"/>
<circle cx="67.5" cy="360.6" r="1.15" fill="#000"/>
<circle cx="68.3" cy="366.6" r="1.15" fill="#000"/>
<circle cx="73.2" cy="361.3" r="1.15" fill="#000"/>
<circle cx="65.1" cy="365.1" r="1.15" fill="#000"/>
<circle cx="70.2" cy="368.6" r="1.15" fill="#000"/>
<circle cx="78.3" cy="371.6" r="1.15" fill="#000"/>
<circle cx="72.2" cy="369.8" r="1.15" fill="#000"/>
<circle cx="74.5" cy="356.3" r="1.15" fill="#000"/>
<circle cx="77.6" cy="373.7" r="1.15" fill="#000"/>
<circle cx="77.2" cy="374.1" r="1.15" fill="#000"/>
<circle cx="70.5" cy="364.6" r="1.15" fill="#000"/>
<circle cx="66.4" cy="370.2" r="1.15" fill="#000"/>
<circle cx="65.9" cy="356.6" r="1.15" fill="#000"/>
<circle cx="67.9" cy="358.9" r="1.15" fill="#000"/>
<circle cx="69.8" cy="356.3" r="1.15" fill="#000"/>
<circle cx="65.0" cy="358.6" r="1.15" fill="#000"/>
<circle cx="116" cy="340.4" r="1.15" fill="#000"/>
<circle cx="105.9" cy="348.5" r="1.15" fill="#000"/>
<circle cx="110.8" cy="349.1" r="1.15" fill="#000"/>
<circle cx="107.9" cy="352" r="1.15" fill="#000"/>
<circle cx="110" cy="356" r="1.15" fill="#000"/>
<circle cx="103.2" cy="361.9" r="1.15" fill="#000"/>
<circle cx="107.4" cy="362.5" r="1.15" fill="#000"/>
<circle cx="105.4" cy="364.8" r="1.15" fill="#000"/>
<circle cx="108.1" cy="366.4" r="1.15" fill="#000"/>
<circle cx="113.6" cy="367.4" r="1.15" fill="#000"/>
<circle cx="115.6" cy="366.8" r="1.15" fill="#000"/>
<circle cx="104.5" cy="368.7" r="1.15" fill="#000"/>
<circle cx="109" cy="368.4" r="1.15" fill="#000"/>
<circle cx="112.3" cy="369.1" r="1.15" fill="#000"/>
<circle cx="116.5" cy="369.4" r="1.15" fill="#000"/>
<circle cx="104.4" cy="369.5" r="1.15" fill="#000"/>
<circle cx="103.2" cy="372.3" r="1.15" fill="#000"/>
<circle cx="112.7" cy="368.3" r="1.15" fill="#000"/>
<circle cx="106.9" cy="369.4" r="1.15" fill="#000"/>
<circle cx="108.7" cy="368.2" r="1.15" fill="#000"/>
<circle cx="116.6" cy="373.0" r="1.15" fill="#000"/>
<circle cx="110.3" cy="370.2" r="1.15" fill="#000"/>
<circle cx="104.2" cy="368.1" r="1.15" fill="#000"/>
<circle cx="108.4" cy="369.0" r="1.15" fill="#000"/>
<circle cx="116.2" cy="368.4" r="1.15" fill="#000"/>
<circle cx="103.2" cy="372.7" r="1.15" fill="#000"/>
<circle cx="111.4" cy="368.3" r="1.15" fill="#000"/>
<circle cx="111.6" cy="367.6" r="1.15" fill="#000"/>
<circle cx="111.4" cy="372.9" r="1.15" fill="#000"/>
<circle cx="116.8" cy="371.3" r="1.15" fill="#000"/>
<circle cx="107.0" cy="369.5" r="1.15" fill="#000"/>
<circle cx="105.5" cy="371.7" r="1.15" fill="#000"/>
<circle cx="111.4" cy="371.8" r="1.15" fill="#000"/>
<circle cx="108.1" cy="373.6" r="1.15" fill="#000"/>
<circle cx="115.9" cy="379.1" r="1.15" fill="#000"/>
<circle cx="116.6" cy="377.8" r="1.15" fill="#000"/>
<circle cx="116.1" cy="377.3" r="1.15" fill="#000"/>
<circle cx="106.5" cy="375.7" r="1.15" fill="#000"/>
<circle cx="108.6" cy="372.2" r="1.15" fill="#000"/>
<circle cx="103.3" cy="374.0" r="1.15" fill="#000"/>
<circle cx="107.0" cy="377.0" r="1.15" fill="#000"/>
<circle cx="118.3" cy="375.2" r="1.15" fill="#000"/>
<circle cx="118.0" cy="379.1" r="1.15" fill="#000"/>
<circle cx="118.3" cy="374.6" r="1.15" fill="#000"/>
<circle cx="106.4" cy="373.6" r="1.15" fill="#000"/>
<circle cx="106.0" cy="373.5" r="1.15" fill="#000"/>
<circle cx="112.9" cy="378.5" r="1.15" fill="#000"/>
<circle cx="116.4" cy="375.5" r="1.15" fill="#000"/>
<circle cx="113.4" cy="377.8" r="1.15" fill="#000"/>
<circle cx="104.2" cy="376.8" r="1.15" fill="#000"/>
<circle cx="117.5" cy="377.6" r="1.15" fill="#000"/>
<circle cx="115.0" cy="375.4" r="1.15" fill="#000"/>
<circle cx="105.7" cy="377.7" r="1.15" fill="#000"/>
<circle cx="108.2" cy="377.8" r="1.15" fill="#000"/>
<circle cx="118.5" cy="374.9" r="1.15" fill="#000"/>
<circle cx="109.3" cy="378.8" r="1.15" fill="#000"/>
<circle cx="114.5" cy="373.2" r="1.15" fill="#000"/>
<circle cx="104.9" cy="373.1" r="1.15" fill="#000"/>
<circle cx="117.5" cy="377.8" r="1.15" fill="#000"/>
<circle cx="105.2" cy="378.0" r="1.15" fill="#000"/>
<circle cx="118.7" cy="376.7" r="1.15" fill="#000"/>
<circle cx="108.5" cy="376.0" r="1.15" fill="#000"/>
<circle cx="104.9" cy="372.1" r="1.15" fill="#000"/>
<circle cx="118.5" cy="376.7" r="1.15" fill="#000"/>
<circle cx="111.3" cy="378.7" r="1.15" fill="#000"/>
<circle cx="109.8" cy="378.3" r="1.15" fill="#000"/>
<circle cx="116.2" cy="373.5" r="1.15" fill="#000"/>
<circle cx="106.9" cy="374.1" r="1.15" fill="#000"/>
<circle cx="106.7" cy="376.2" r="1.15" fill="#000"/>
<circle cx="107.0" cy="375.0" r="1.15" fill="#000"/>
<circle cx="104.9" cy="378.6" r="1.15" fill="#000"/>
<circle cx="108.5" cy="375.3" r="1.15" fill="#000"/>
<circle cx="112.3" cy="378.5" r="1.15" fill="#000"/>
<circle cx="153.8" cy="319.2" r="1.15" fill="#000"/>
<circle cx="147.1" cy="336.9" r="1.15" fill="#000"/>
<circle cx="144.7" cy="348.3" r="1.15" fill="#000"/>
<circle cx="145" cy="357.9" r="1.15" fill="#000"/>
<circle cx="146.1" cy="357.4" r="1.15" fill="#000"/>
<circle cx="150.8" cy="360.5" r="1.15" fill="#000"/>
<circle cx="152.8" cy="360" r="1.15" fill="#000"/>
<circle cx="145.5" cy="363.1" r="1.15" fill="#000"/>
<circle cx="147.6" cy="363.1" r="1.15" fill="#000"/>
<circle cx="144.5" cy="365.2" r="1.15" fill="#000"/>
<circle cx="148.1" cy="366.3" r="1.15" fill="#000"/>
<circle cx="150.8" cy="368.9" r="1.15" fill="#000"/>
<circle cx="152.8" cy="370.9" r="1.15" fill="#000"/>
<circle cx="145.5" cy="370.9" r="1.15" fill="#000"/>
<circle cx="152.8" cy="373" r="1.15" fill="#000"/>
<circle cx="144.5" cy="373.5" r="1.15" fill="#000"/>
<circle cx="154.4" cy="374.1" r="1.15" fill="#000"/>
<circle cx="142.4" cy="377.2" r="1.15" fill="#000"/>
<circle cx="145.5" cy="377.7" r="1.15" fill="#000"/>
<circle cx="153.9" cy="377.2" r="1.15" fill="#000"/>
<circle cx="156" cy="377.7" r="1.15" fill="#000"/>
<circle cx="151.8" cy="376.1" r="1.15" fill="#000"/>
<circle cx="184.9" cy="331.1" r="1.15" fill="#000"/>
<circle cx="183.3" cy="334.5" r="1.15" fill="#000"/>
<circle cx="182.7" cy="339.9" r="1.15" fill="#000"/>
<circle cx="185.2" cy="342.7" r="1.15" fill="#000"/>
<circle cx="188.7" cy="340.8" r="1.15" fill="#000"/>
<circle cx="188.9" cy="342.9" r="1.15" fill="#000"/>
<circle cx="188" cy="352.7" r="1.15" fill="#000"/>
<circle cx="191.3" cy="354" r="1.15" fill="#000"/>
<circle cx="187.3" cy="356.7" r="1.15" fill="#000"/>
<circle cx="191.3" cy="357.3" r="1.15" fill="#000"/>
<circle cx="192.7" cy="360.3" r="1.15" fill="#000"/>
<circle cx="188.7" cy="363" r="1.15" fill="#000"/>
<circle cx="192" cy="364.3" r="1.15" fill="#000"/>
<circle cx="194" cy="366" r="1.15" fill="#000"/>
<circle cx="180" cy="366" r="1.15" fill="#000"/>
<circle cx="183" cy="365.3" r="1.15" fill="#000"/>
<circle cx="194.7" cy="369.3" r="1.15" fill="#000"/>
<circle cx="180.7" cy="372" r="1.15" fill="#000"/>
<circle cx="184" cy="372" r="1.15" fill="#000"/>
<circle cx="186.3" cy="371.3" r="1.15" fill="#000"/>
<circle cx="189.7" cy="372.7" r="1.15" fill="#000"/>
<circle cx="192" cy="372" r="1.15" fill="#000"/>
<circle cx="180.7" cy="374.7" r="1.15" fill="#000"/>
<circle cx="186.3" cy="374" r="1.15" fill="#000"/>
<circle cx="188" cy="375.3" r="1.15" fill="#000"/>
<circle cx="193.3" cy="374.7" r="1.15" fill="#000"/>
<circle cx="179.3" cy="378.7" r="1.15" fill="#000"/>
<circle cx="183.7" cy="378.7" r="1.15" fill="#000"/>
<circle cx="187.3" cy="378" r="1.15" fill="#000"/>
<circle cx="190" cy="379" r="1.15" fill="#000"/>
<circle cx="194" cy="378.7" r="1.15" fill="#000"/>
<circle cx="182" cy="377" r="1.15" fill="#000"/>
<circle cx="191.3" cy="377" r="1.15" fill="#000"/>
<circle cx="230" cy="295" r="1.15" fill="#000"/>
<circle cx="219.4" cy="356.3" r="1.15" fill="#000"/>
<circle cx="222.6" cy="357.8" r="1.15" fill="#000"/>
<circle cx="224.7" cy="361" r="1.15" fill="#000"/>
<circle cx="232.5" cy="361" r="1.15" fill="#000"/>
<circle cx="220.1" cy="363.2" r="1.15" fill="#000"/>
<circle cx="228.3" cy="366.2" r="1.15" fill="#000"/>
<circle cx="219.7" cy="376.9" r="1.15" fill="#000"/>
<circle cx="221.5" cy="377.9" r="1.15" fill="#000"/>
<circle cx="222.9" cy="378.1" r="1.15" fill="#000"/>
<circle cx="229" cy="378.8" r="1.15" fill="#000"/>
<rect x="50.1" y="263.7" width="197.9" height="120.60000000000002" fill="none" stroke="#111" stroke-width="1.3"/>
<line x1="72.90" y1="384.25" x2="72.90" y2="387.25" stroke="#333" stroke-width="0.9"/>
<text x="-51.00" y="0" font-size="7.2" textLength="51" lengthAdjust="spacingAndGlyphs" fill="#4a4a4a" stroke="#4a4a4a" stroke-width="0.05" transform="translate(72.50 394.25) rotate(-45)">PRIMING DOSE 1</text>
<line x1="110.95" y1="384.25" x2="110.95" y2="387.25" stroke="#333" stroke-width="0.9"/>
<text x="-43.00" y="0" font-size="7.2" textLength="43" lengthAdjust="spacingAndGlyphs" fill="#4a4a4a" stroke="#4a4a4a" stroke-width="0.05" transform="translate(110.55 394.25) rotate(-45)">CYCLE 1 DAY 1</text>
<line x1="149.00" y1="384.25" x2="149.00" y2="387.25" stroke="#333" stroke-width="0.9"/>
<text x="-43.00" y="0" font-size="7.2" textLength="43" lengthAdjust="spacingAndGlyphs" fill="#4a4a4a" stroke="#4a4a4a" stroke-width="0.05" transform="translate(148.60 394.25) rotate(-45)">CYCLE 2 DAY 1</text>
<line x1="187.05" y1="384.25" x2="187.05" y2="387.25" stroke="#333" stroke-width="0.9"/>
<text x="-43.00" y="0" font-size="7.2" textLength="43" lengthAdjust="spacingAndGlyphs" fill="#4a4a4a" stroke="#4a4a4a" stroke-width="0.05" transform="translate(186.65 394.25) rotate(-45)">CYCLE 3 DAY 1</text>
<line x1="225.10" y1="384.25" x2="225.10" y2="387.25" stroke="#333" stroke-width="0.9"/>
<text x="-43.00" y="0" font-size="7.2" textLength="43" lengthAdjust="spacingAndGlyphs" fill="#4a4a4a" stroke="#4a4a4a" stroke-width="0.05" transform="translate(224.70 394.25) rotate(-45)">CYCLE 7 DAY 1</text>
<text x="0" y="0" font-size="8.4" textLength="10.7" lengthAdjust="spacingAndGlyphs" text-anchor="middle" fill="#111" stroke="#111" stroke-width="0.12" transform="translate(149 441.4)">Visit</text>
<text x="270.4" y="241.8" font-size="10.8" font-weight="bold" fill="#000" stroke="#000" stroke-width="0.35">D</text>
<text x="0" y="0" font-size="8.9" text-anchor="middle" fill="#1a1a1a" stroke="#1a1a1a" stroke-width="0.08" transform="translate(413.4 258.5) scale(0.925 1)">IgG levels</text>
<text x="-35.50" y="0" font-size="6.9" textLength="71" lengthAdjust="spacingAndGlyphs" fill="#111" stroke="#111" stroke-width="0.12" transform="translate(289.2 325) rotate(-90)">Immunoglobulin G (g/L)</text>
<line x1="310.25" y1="379.30" x2="313.55" y2="379.30" stroke="#333" stroke-width="0.9"/>
<text x="307.65000000000003" y="381.05" font-size="6" text-anchor="end" fill="#444" stroke="#444" stroke-width="0.12">0.0</text>
<line x1="310.25" y1="351.60" x2="313.55" y2="351.60" stroke="#333" stroke-width="0.9"/>
<text x="307.65000000000003" y="353.35" font-size="6" text-anchor="end" fill="#444" stroke="#444" stroke-width="0.12">2.5</text>
<line x1="310.25" y1="323.90" x2="313.55" y2="323.90" stroke="#333" stroke-width="0.9"/>
<text x="307.65000000000003" y="325.65" font-size="6" text-anchor="end" fill="#444" stroke="#444" stroke-width="0.12">5.0</text>
<line x1="310.25" y1="296.20" x2="313.55" y2="296.20" stroke="#333" stroke-width="0.9"/>
<text x="307.65000000000003" y="297.95" font-size="6" text-anchor="end" fill="#444" stroke="#444" stroke-width="0.12">7.5</text>
<line x1="310.25" y1="268.50" x2="313.55" y2="268.50" stroke="#333" stroke-width="0.9"/>
<text x="307.65000000000003" y="270.25" font-size="6" text-anchor="end" fill="#444" stroke="#444" stroke-width="0.12">10.0</text>
<line x1="314" y1="371.54" x2="513" y2="371.54" stroke="#c8c8c8" stroke-width="0.8" stroke-dasharray="2 1.6"/>
<line x1="327.90" y1="310.20" x2="327.90" y2="341.10" stroke="#555" stroke-width="1.1"/>
<line x1="327.90" y1="366.80" x2="327.90" y2="372.00" stroke="#555" stroke-width="1.1"/>
<rect x="318.90" y="341.10" width="18.00" height="25.70" fill="#2ea9de" stroke="#2a9fd6" stroke-width="0.6"/>
<line x1="318.90" y1="363.70" x2="336.90" y2="363.70" stroke="#0e1a24" stroke-width="1.35"/>
<line x1="352.31" y1="356.00" x2="352.31" y2="357.50" stroke="#555" stroke-width="1.1"/>
<line x1="352.31" y1="363.60" x2="352.31" y2="365.50" stroke="#555" stroke-width="1.1"/>
<rect x="343.26" y="357.50" width="18.10" height="6.10" fill="#2ea9de" stroke="#2a9fd6" stroke-width="0.6"/>
<line x1="343.26" y1="360.60" x2="361.36" y2="360.60" stroke="#0e1a24" stroke-width="1.35"/>
<line x1="376.72" y1="335.90" x2="376.72" y2="350.80" stroke="#555" stroke-width="1.1"/>
<line x1="376.72" y1="370.50" x2="376.72" y2="371.50" stroke="#555" stroke-width="1.1"/>
<rect x="368.07" y="350.80" width="17.30" height="19.70" fill="#2ea9de" stroke="#2a9fd6" stroke-width="0.6"/>
<line x1="368.07" y1="366.50" x2="385.37" y2="366.50" stroke="#0e1a24" stroke-width="1.35"/>
<line x1="401.13" y1="353.80" x2="401.13" y2="356.00" stroke="#555" stroke-width="1.1"/>
<line x1="401.13" y1="371.00" x2="401.13" y2="371.50" stroke="#555" stroke-width="1.1"/>
<rect x="392.13" y="356.00" width="18.00" height="15.00" fill="#2ea9de" stroke="#2a9fd6" stroke-width="0.6"/>
<line x1="392.13" y1="366.60" x2="410.13" y2="366.60" stroke="#0e1a24" stroke-width="1.35"/>
<line x1="425.54" y1="359.00" x2="425.54" y2="365.30" stroke="#555" stroke-width="1.1"/>
<line x1="425.54" y1="370.40" x2="425.54" y2="371.50" stroke="#555" stroke-width="1.1"/>
<rect x="416.24" y="365.30" width="18.60" height="5.10" fill="#2ea9de" stroke="#2a9fd6" stroke-width="0.6"/>
<line x1="416.24" y1="370.00" x2="434.84" y2="370.00" stroke="#0e1a24" stroke-width="1.35"/>
<line x1="441.15" y1="371.20" x2="458.75" y2="371.20" stroke="#111" stroke-width="1.2"/>
<line x1="465.56" y1="371.20" x2="483.16" y2="371.20" stroke="#111" stroke-width="1.2"/>
<line x1="489.97" y1="371.20" x2="507.57" y2="371.20" stroke="#111" stroke-width="1.2"/>
<line x1="314" y1="301.74" x2="513" y2="301.74" stroke="#333" stroke-width="1.3" stroke-dasharray="2.1 2.0"/>
<text x="352.31" y="269.05" font-size="6.4" text-anchor="middle" fill="#444">ns</text>
<text x="376.72" y="269.05" font-size="6.4" text-anchor="middle" fill="#444">ns</text>
<text x="401.13" y="269.05" font-size="6.4" text-anchor="middle" fill="#444">ns</text>
<text x="425.54" y="268.6" font-size="6.4" text-anchor="middle" fill="#444">**</text>
<text x="449.95" y="268.6" font-size="6.4" text-anchor="middle" fill="#444">***</text>
<text x="474.36" y="268.6" font-size="6.4" text-anchor="middle" fill="#444">***</text>
<text x="498.77" y="268.6" font-size="6.4" text-anchor="middle" fill="#444">***</text>
<circle cx="327.2" cy="300.9" r="1.15" fill="#000"/>
<circle cx="331.2" cy="310.2" r="1.15" fill="#000"/>
<circle cx="328.7" cy="314.1" r="1.15" fill="#000"/>
<circle cx="330.9" cy="315.8" r="1.15" fill="#000"/>
<circle cx="325.3" cy="324.2" r="1.15" fill="#000"/>
<circle cx="330.2" cy="326.6" r="1.15" fill="#000"/>
<circle cx="328.5" cy="333.1" r="1.15" fill="#000"/>
<circle cx="332.6" cy="336" r="1.15" fill="#000"/>
<circle cx="328" cy="336.9" r="1.15" fill="#000"/>
<circle cx="329.4" cy="339.3" r="1.15" fill="#000"/>
<circle cx="325.7" cy="342.1" r="1.15" fill="#000"/>
<circle cx="325" cy="345.8" r="1.15" fill="#000"/>
<circle cx="326.9" cy="350.5" r="1.15" fill="#000"/>
<circle cx="329" cy="353.3" r="1.15" fill="#000"/>
<circle cx="324.7" cy="355.2" r="1.15" fill="#000"/>
<circle cx="332.2" cy="354.7" r="1.15" fill="#000"/>
<circle cx="328.5" cy="358.4" r="1.15" fill="#000"/>
<circle cx="326.6" cy="360.3" r="1.15" fill="#000"/>
<circle cx="324.7" cy="363.1" r="1.15" fill="#000"/>
<circle cx="323.3" cy="365.4" r="1.15" fill="#000"/>
<circle cx="325.2" cy="367.3" r="1.15" fill="#000"/>
<circle cx="331.3" cy="365.9" r="1.15" fill="#000"/>
<circle cx="324.3" cy="369.6" r="1.15" fill="#000"/>
<circle cx="328" cy="368.7" r="1.15" fill="#000"/>
<circle cx="330.4" cy="370.1" r="1.15" fill="#000"/>
<circle cx="325.2" cy="371.5" r="1.15" fill="#000"/>
<circle cx="329.4" cy="371.5" r="1.15" fill="#000"/>
<circle cx="323.8" cy="362.5" r="1.15" fill="#000"/>
<circle cx="326.5" cy="364.5" r="1.15" fill="#000"/>
<circle cx="324.5" cy="366.5" r="1.15" fill="#000"/>
<circle cx="327.5" cy="367.5" r="1.15" fill="#000"/>
<circle cx="325.8" cy="369.2" r="1.15" fill="#000"/>
<circle cx="329.6" cy="366.2" r="1.15" fill="#000"/>
<circle cx="331.8" cy="368.8" r="1.15" fill="#000"/>
<circle cx="327.2" cy="370.8" r="1.15" fill="#000"/>
<circle cx="323.9" cy="371" r="1.15" fill="#000"/>
<circle cx="330.8" cy="371.8" r="1.15" fill="#000"/>
<circle cx="328.8" cy="364.8" r="1.15" fill="#000"/>
<circle cx="349.1" cy="335.1" r="1.15" fill="#000"/>
<circle cx="349.1" cy="356.1" r="1.15" fill="#000"/>
<circle cx="351.7" cy="358.6" r="1.15" fill="#000"/>
<circle cx="356" cy="362" r="1.15" fill="#000"/>
<circle cx="353.3" cy="365.2" r="1.15" fill="#000"/>
<circle cx="355.5" cy="367.3" r="1.15" fill="#000"/>
<circle cx="372.4" cy="293.6" r="1.15" fill="#000"/>
<circle cx="378.2" cy="292.9" r="1.15" fill="#000"/>
<circle cx="373" cy="335.3" r="1.15" fill="#000"/>
<circle cx="379.4" cy="335.9" r="1.15" fill="#000"/>
<circle cx="373.6" cy="349.7" r="1.15" fill="#000"/>
<circle cx="377.8" cy="350.8" r="1.15" fill="#000"/>
<circle cx="376.2" cy="355.6" r="1.15" fill="#000"/>
<circle cx="373.6" cy="359.3" r="1.15" fill="#000"/>
<circle cx="380" cy="359.3" r="1.15" fill="#000"/>
<circle cx="380.5" cy="365.2" r="1.15" fill="#000"/>
<circle cx="375.2" cy="367.8" r="1.15" fill="#000"/>
<circle cx="372" cy="370.5" r="1.15" fill="#000"/>
<circle cx="376.2" cy="371" r="1.15" fill="#000"/>
<circle cx="380" cy="370.3" r="1.15" fill="#000"/>
<circle cx="399.6" cy="307.9" r="1.15" fill="#000"/>
<circle cx="400.4" cy="322.5" r="1.15" fill="#000"/>
<circle cx="400" cy="327.7" r="1.15" fill="#000"/>
<circle cx="397.7" cy="332.3" r="1.15" fill="#000"/>
<circle cx="397.9" cy="354.2" r="1.15" fill="#000"/>
<circle cx="403.8" cy="352.7" r="1.15" fill="#000"/>
<circle cx="402.3" cy="357.8" r="1.15" fill="#000"/>
<circle cx="398.6" cy="362.6" r="1.15" fill="#000"/>
<circle cx="400.8" cy="363.7" r="1.15" fill="#000"/>
<circle cx="396.8" cy="367" r="1.15" fill="#000"/>
<circle cx="400.1" cy="367" r="1.15" fill="#000"/>
<circle cx="404.9" cy="366.3" r="1.15" fill="#000"/>
<circle cx="399.7" cy="371" r="1.15" fill="#000"/>
<circle cx="402.3" cy="371" r="1.15" fill="#000"/>
<circle cx="405.6" cy="370.3" r="1.15" fill="#000"/>
<circle cx="430" cy="294.6" r="1.15" fill="#000"/>
<circle cx="422.7" cy="329.7" r="1.15" fill="#000"/>
<circle cx="422.4" cy="335.4" r="1.15" fill="#000"/>
<circle cx="424.2" cy="358.6" r="1.15" fill="#000"/>
<circle cx="421.3" cy="361.5" r="1.15" fill="#000"/>
<circle cx="422.1" cy="364.9" r="1.15" fill="#000"/>
<circle cx="427.2" cy="367.4" r="1.15" fill="#000"/>
<circle cx="420.4" cy="368.7" r="1.15" fill="#000"/>
<circle cx="423.8" cy="368.7" r="1.15" fill="#000"/>
<circle cx="428.9" cy="369.1" r="1.15" fill="#000"/>
<circle cx="420.9" cy="371.3" r="1.15" fill="#000"/>
<circle cx="424.7" cy="371.7" r="1.15" fill="#000"/>
<circle cx="429.7" cy="371.3" r="1.15" fill="#000"/>
<circle cx="451.7" cy="276.8" r="1.15" fill="#000"/>
<circle cx="451.1" cy="344.4" r="1.15" fill="#000"/>
<circle cx="451.8" cy="367" r="1.15" fill="#000"/>
<circle cx="445.5" cy="371.1" r="1.15" fill="#000"/>
<circle cx="449.9" cy="370.7" r="1.15" fill="#000"/>
<circle cx="452.8" cy="371.1" r="1.15" fill="#000"/>
<circle cx="455" cy="371.1" r="1.15" fill="#000"/>
<circle cx="470.5" cy="275.5" r="1.15" fill="#000"/>
<circle cx="474" cy="350.5" r="1.15" fill="#000"/>
<circle cx="471.8" cy="371.1" r="1.15" fill="#000"/>
<circle cx="474.7" cy="371.1" r="1.15" fill="#000"/>
<circle cx="477.7" cy="371.1" r="1.15" fill="#000"/>
<circle cx="502.6" cy="293.8" r="1.15" fill="#000"/>
<circle cx="502.8" cy="358" r="1.15" fill="#000"/>
<circle cx="493.7" cy="371.1" r="1.15" fill="#000"/>
<circle cx="497.4" cy="371.1" r="1.15" fill="#000"/>
<circle cx="501" cy="371.1" r="1.15" fill="#000"/>
<rect x="313.55" y="263.6" width="199.74999999999994" height="120.69999999999999" fill="none" stroke="#111" stroke-width="1.3"/>
<line x1="327.90" y1="384.25" x2="327.90" y2="387.25" stroke="#333" stroke-width="0.9"/>
<text x="-51.00" y="0" font-size="7.2" textLength="51" lengthAdjust="spacingAndGlyphs" fill="#4a4a4a" stroke="#4a4a4a" stroke-width="0.05" transform="translate(327.50 394.25) rotate(-45)">PRIMING DOSE 1</text>
<line x1="352.31" y1="384.25" x2="352.31" y2="387.25" stroke="#333" stroke-width="0.9"/>
<text x="-43.00" y="0" font-size="7.2" textLength="43" lengthAdjust="spacingAndGlyphs" fill="#4a4a4a" stroke="#4a4a4a" stroke-width="0.05" transform="translate(351.91 394.25) rotate(-45)">CYCLE 1 DAY 1</text>
<line x1="376.72" y1="384.25" x2="376.72" y2="387.25" stroke="#333" stroke-width="0.9"/>
<text x="-43.00" y="0" font-size="7.2" textLength="43" lengthAdjust="spacingAndGlyphs" fill="#4a4a4a" stroke="#4a4a4a" stroke-width="0.05" transform="translate(376.32 394.25) rotate(-45)">CYCLE 2 DAY 1</text>
<line x1="401.13" y1="384.25" x2="401.13" y2="387.25" stroke="#333" stroke-width="0.9"/>
<text x="-43.00" y="0" font-size="7.2" textLength="43" lengthAdjust="spacingAndGlyphs" fill="#4a4a4a" stroke="#4a4a4a" stroke-width="0.05" transform="translate(400.73 394.25) rotate(-45)">CYCLE 3 DAY 1</text>
<line x1="425.54" y1="384.25" x2="425.54" y2="387.25" stroke="#333" stroke-width="0.9"/>
<text x="-43.00" y="0" font-size="7.2" textLength="43" lengthAdjust="spacingAndGlyphs" fill="#4a4a4a" stroke="#4a4a4a" stroke-width="0.05" transform="translate(425.14 394.25) rotate(-45)">CYCLE 4 DAY 1</text>
<line x1="449.95" y1="384.25" x2="449.95" y2="387.25" stroke="#333" stroke-width="0.9"/>
<text x="-43.00" y="0" font-size="7.2" textLength="43" lengthAdjust="spacingAndGlyphs" fill="#4a4a4a" stroke="#4a4a4a" stroke-width="0.05" transform="translate(449.55 394.25) rotate(-45)">CYCLE 5 DAY 1</text>
<line x1="474.36" y1="384.25" x2="474.36" y2="387.25" stroke="#333" stroke-width="0.9"/>
<text x="-43.00" y="0" font-size="7.2" textLength="43" lengthAdjust="spacingAndGlyphs" fill="#4a4a4a" stroke="#4a4a4a" stroke-width="0.05" transform="translate(473.96 394.25) rotate(-45)">CYCLE 6 DAY 1</text>
<line x1="498.77" y1="384.25" x2="498.77" y2="387.25" stroke="#333" stroke-width="0.9"/>
<text x="-43.00" y="0" font-size="7.2" textLength="43" lengthAdjust="spacingAndGlyphs" fill="#4a4a4a" stroke="#4a4a4a" stroke-width="0.05" transform="translate(498.37 394.25) rotate(-45)">CYCLE 7 DAY 1</text>
<text x="0" y="0" font-size="8.4" textLength="10.7" lengthAdjust="spacingAndGlyphs" text-anchor="middle" fill="#111" stroke="#111" stroke-width="0.12" transform="translate(413.3 441.4)">Visit</text>
<rect x="0.5" y="0.5" width="519" height="449" fill="none" stroke="#666" stroke-width="1.2"/>
</svg>
</body></html>
